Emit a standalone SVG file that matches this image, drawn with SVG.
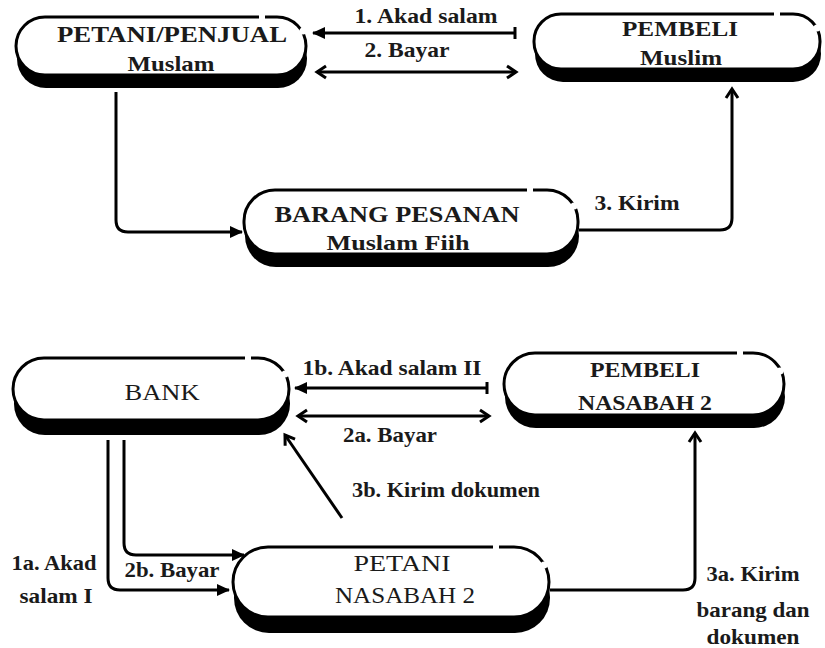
<svg xmlns="http://www.w3.org/2000/svg" width="825" height="648" viewBox="0 0 825 648">
<defs>
<style>
.sh{fill:#000}
.bx{fill:#fff;stroke:#000;stroke-width:3}
.gap{stroke:#fff;stroke-width:6}
.gc{fill:#fff}
text{font-family:'Liberation Serif','Times New Roman',serif;fill:#1a1a1a;text-anchor:middle}
.b{font-weight:bold}
.c{fill:none;stroke:#000;stroke-width:3}
</style>
<marker id="tri" markerUnits="userSpaceOnUse" markerWidth="14" markerHeight="14" refX="12" refY="7" orient="auto-start-reverse">
<path d="M0,1 L13,7 L0,13 Z" fill="#000"/>
</marker>
<marker id="chev" markerUnits="userSpaceOnUse" markerWidth="16" markerHeight="16" refX="12" refY="8" orient="auto-start-reverse">
<path d="M3,2 L12,8 L3,14" fill="none" stroke="#000" stroke-width="3"/>
</marker>
<marker id="tick" markerUnits="userSpaceOnUse" markerWidth="6" markerHeight="14" refX="3" refY="7" orient="auto">
<path d="M3,1 V13" stroke="#000" stroke-width="3"/>
</marker>
</defs>
<rect width="825" height="648" fill="#fff"/>

<g id="connectors">
<line class="c" x1="515" y1="33" x2="313" y2="33" marker-start="url(#tick)" marker-end="url(#tri)"/>
<line class="c" x1="317" y1="72" x2="516" y2="72" marker-start="url(#chev)" marker-end="url(#chev)"/>
<path class="c" d="M116,92 V220 Q116,232 128,232 H242" marker-end="url(#tri)"/>
<path class="c" d="M579,230 H720 Q732,230 732,218 V89" marker-end="url(#chev)"/>
<line class="c" x1="487" y1="388" x2="295" y2="388" marker-start="url(#tick)" marker-end="url(#tri)"/>
<line class="c" x1="298" y1="416" x2="489" y2="416" marker-start="url(#chev)" marker-end="url(#chev)"/>
<line class="c" x1="342" y1="518" x2="285" y2="435" marker-end="url(#chev)"/>
<path class="c" d="M108,440 V578 Q108,590 120,590 H229" marker-end="url(#tri)"/>
<path class="c" d="M124,440 V543 Q124,555 136,555 H244" marker-end="url(#tri)"/>
<path class="c" d="M550,590 H683 Q695,590 695,578 V433" marker-end="url(#chev)"/>
<text class="b" x="426" y="23" font-size="20" textLength="143" lengthAdjust="spacingAndGlyphs">1. Akad salam</text>
<text class="b" x="407" y="57" font-size="21" textLength="85" lengthAdjust="spacingAndGlyphs">2. Bayar</text>
<text class="b" x="637" y="210" font-size="21" textLength="85" lengthAdjust="spacingAndGlyphs">3. Kirim</text>
<text class="b" x="392" y="375" font-size="21" textLength="179" lengthAdjust="spacingAndGlyphs">1b. Akad salam II</text>
<text class="b" x="390" y="442" font-size="21" textLength="94" lengthAdjust="spacingAndGlyphs">2a. Bayar</text>
<text class="b" x="446" y="497" font-size="21" textLength="188" lengthAdjust="spacingAndGlyphs">3b. Kirim dokumen</text>
<text class="b" x="54" y="570" font-size="21" textLength="85" lengthAdjust="spacingAndGlyphs">1a. Akad</text>
<text class="b" x="56" y="603" font-size="21" textLength="73" lengthAdjust="spacingAndGlyphs">salam I</text>
<text class="b" x="172" y="577" font-size="21" textLength="95" lengthAdjust="spacingAndGlyphs">2b. Bayar</text>
<text class="b" x="753" y="581" font-size="21" textLength="93" lengthAdjust="spacingAndGlyphs">3a. Kirim</text>
<text class="b" x="753" y="617" font-size="21" textLength="113" lengthAdjust="spacingAndGlyphs">barang dan</text>
<text class="b" x="753" y="644" font-size="21" textLength="93" lengthAdjust="spacingAndGlyphs">dokumen</text>
</g>

<g id="petani-penjual">
<rect class="sh" x="17" y="29" width="290" height="59" rx="29"/>
<rect class="bx" x="16" y="17" width="290" height="58" rx="29"/>
<line class="gap" x1="262" y1="13" x2="262" y2="21"/>
<circle class="gc" cx="303" cy="31" r="3.5"/>
<text class="b" x="172" y="42" font-size="23" textLength="230" lengthAdjust="spacingAndGlyphs">PETANI/PENJUAL</text>
<text class="b" x="171" y="71" font-size="22" textLength="87" lengthAdjust="spacingAndGlyphs">Muslam</text>
</g>

<g id="pembeli">
<rect class="sh" x="535" y="26" width="286" height="56" rx="28"/>
<rect class="bx" x="534" y="14" width="286" height="55" rx="27"/>
<line class="gap" x1="777" y1="10" x2="777" y2="18"/>
<circle class="gc" cx="817" cy="28" r="3.5"/>
<text class="b" x="680" y="36" font-size="22" textLength="116" lengthAdjust="spacingAndGlyphs">PEMBELI</text>
<text class="b" x="681" y="65" font-size="22" textLength="82" lengthAdjust="spacingAndGlyphs">Muslim</text>
</g>

<g id="barang-pesanan">
<rect class="sh" x="245" y="205" width="334" height="62" rx="31"/>
<rect class="bx" x="244" y="190" width="334" height="64" rx="31"/>
<line class="gap" x1="530" y1="186" x2="530" y2="194"/>
<circle class="gc" cx="574" cy="206" r="3.5"/>
<text class="b" x="397" y="222" font-size="23" textLength="245" lengthAdjust="spacingAndGlyphs">BARANG PESANAN</text>
<text class="b" x="398" y="250" font-size="22" textLength="143" lengthAdjust="spacingAndGlyphs">Muslam Fiih</text>
</g>

<g id="bank">
<rect class="sh" x="14" y="372" width="276" height="63" rx="31"/>
<rect class="bx" x="13" y="358" width="276" height="62" rx="31"/>
<line class="gap" x1="248" y1="354" x2="248" y2="362"/>
<circle class="gc" cx="285" cy="374" r="3.5"/>
<text x="162" y="400" font-size="24" textLength="75" lengthAdjust="spacingAndGlyphs">BANK</text>
</g>

<g id="pembeli-nasabah">
<rect class="sh" x="505" y="366" width="280" height="62" rx="31"/>
<rect class="bx" x="504" y="353" width="280" height="62" rx="31"/>
<line class="gap" x1="740" y1="349" x2="740" y2="357"/>
<circle class="gc" cx="780" cy="371" r="3.5"/>
<text class="b" x="645" y="377" font-size="22" textLength="110" lengthAdjust="spacingAndGlyphs">PEMBELI</text>
<text class="b" x="645" y="410" font-size="22" textLength="134" lengthAdjust="spacingAndGlyphs">NASABAH 2</text>
</g>

<g id="petani-nasabah">
<rect class="sh" x="234" y="562" width="316" height="71" rx="35"/>
<rect class="bx" x="233" y="547" width="316" height="70" rx="35"/>
<line class="gap" x1="496" y1="543" x2="496" y2="551"/>
<circle class="gc" cx="544" cy="565" r="3.5"/>
<text x="402" y="571" font-size="24" textLength="97" lengthAdjust="spacingAndGlyphs">PETANI</text>
<text x="405" y="603" font-size="24" textLength="140" lengthAdjust="spacingAndGlyphs">NASABAH 2</text>
</g>
</svg>
